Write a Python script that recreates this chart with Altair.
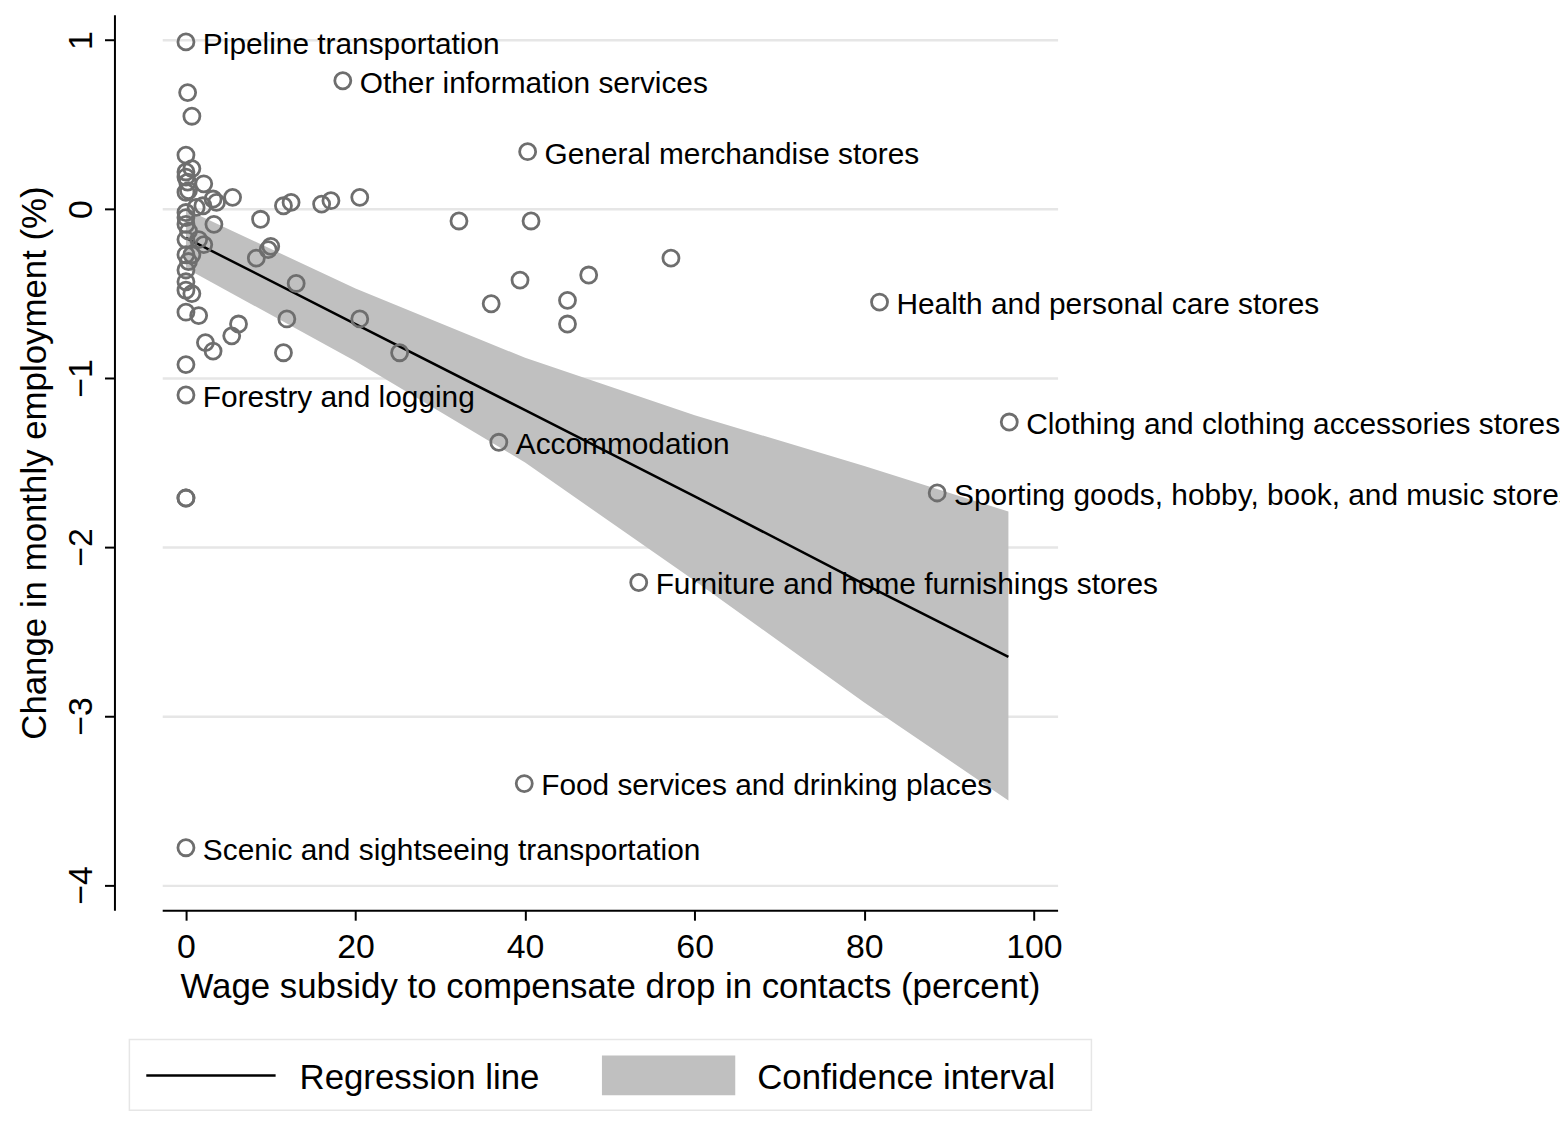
import altair as alt
import pandas as pd

FONT = "Liberation Sans"

# scatter points: subsidy (%), employment change (%)
sub_x = [0, 18.5, 0.2, 0.7, 40.3, 0, 0, 0.7, 0, 0.2, 2.1, 0, 0.3, 5.5, 3.2, 3.6,
         11.5, 12.4, 16, 17.1, 20.5, 1.2, 2, 0, 0, 0, 0.3, 0, 8.8, 3.3, 32.2, 40.7,
         2.1, 1.5, 10, 9.7, 0, 0.7, 0.3, 8.3, 57.2, 0, 0, 0, 0.7, 13, 47.5, 39.4,
         36, 45, 81.8, 0, 1.5, 11.9, 20.5, 6.2, 45, 5.4, 2.3, 3.2, 11.5, 25.2, 0,
         0, 36.9, 97.1, 88.6, 0, 0, 53.4, 39.9, 0]
emp_y = [0.99, 0.76, 0.69, 0.55, 0.34, 0.32, 0.22, 0.24, 0.19, 0.16, 0.15, 0.10, 0.11,
         0.07, 0.06, 0.04, 0.02, 0.04, 0.03, 0.05, 0.07, 0.01, 0.02, -0.02, -0.05, -0.09,
         -0.13, -0.18, -0.06, -0.09, -0.07, -0.07, -0.21, -0.18, -0.22, -0.24, -0.27,
         -0.27, -0.31, -0.29, -0.29, -0.36, -0.43, -0.48, -0.50, -0.44, -0.39, -0.42,
         -0.56, -0.54, -0.55, -0.61, -0.63, -0.65, -0.65, -0.68, -0.68, -0.75, -0.79,
         -0.84, -0.85, -0.85, -0.92, -1.10, -1.38, -1.26, -1.68, -1.71, -1.71, -2.21,
         -3.40, -3.78]
labels = ["Pipeline transportation", "Other information services", "", "",
          "General merchandise stores"] + [""] * 45 + ["Health and personal care stores"] + [""] * 12 + \
         ["Forestry and logging", "Accommodation", "Clothing and clothing accessories stores",
          "Sporting goods, hobby, book, and music stores", "", "",
          "Furniture and home furnishings stores", "Food services and drinking places",
          "Scenic and sightseeing transportation"]

# regression line and confidence band
fit_x = [0, 20, 40, 60, 80, 97]
fit_y = [-0.17, -0.68, -1.19, -1.70, -2.22, -2.65]
ci_lo = [-0.35, -0.90, -1.50, -2.20, -2.92, -3.50]
ci_hi = [0.00, -0.47, -0.88, -1.22, -1.52, -1.79]

pts = pd.DataFrame({"x": sub_x, "y": emp_y, "label": labels})
fit = pd.DataFrame({"x": fit_x, "y": fit_y, "lo": ci_lo, "hi": ci_hi})

xs = alt.Scale(domain=[-2.8, 102.8], nice=False, zero=False)
ys = alt.Scale(domain=[-4.15, 1.15], nice=False, zero=False)

xax = alt.Axis(values=[0, 20, 40, 60, 80, 100], grid=False, labelFontSize=34, titleFontSize=35,
               labelFont=FONT, titleFont=FONT, tickSize=10, tickColor="black", domainColor="black",
               labelColor="black", titleColor="black", labelPadding=10, titleFontWeight="normal",
               titlePadding=6, title="Wage subsidy to compensate drop in contacts (percent)")
yax = alt.Axis(values=[-4, -3, -2, -1, 0, 1], format="d", grid=True, gridColor="#e6e6e6",
               gridWidth=2.5, labelFontSize=34, titleFontSize=35, labelFont=FONT, titleFont=FONT,
               labelAngle=270, labelAlign="center", labelBaseline="bottom", tickSize=10,
               tickColor="black", domainColor="black", labelColor="black", titleColor="black",
               offset=48, labelPadding=6, titleFontWeight="normal", titleX=-62, titleY=450,
               title="Change in monthly employment (%)")

band = alt.Chart(fit).mark_area(color="#c0c0c0", opacity=1).encode(
    x=alt.X("x:Q", scale=xs, axis=xax), y=alt.Y("lo:Q", scale=ys, axis=yax), y2="hi:Q")
line = alt.Chart(fit).mark_line(color="black", strokeWidth=2.5).encode(
    x=alt.X("x:Q", scale=xs), y=alt.Y("y:Q", scale=ys))
dots = alt.Chart(pts).mark_point(shape="circle", size=260, strokeWidth=2.8, color="#6e6e6e",
                                 opacity=1, filled=False).encode(
    x=alt.X("x:Q", scale=xs), y=alt.Y("y:Q", scale=ys))
txt = alt.Chart(pts).mark_text(align="left", baseline="middle", dx=17, dy=3, fontSize=30,
                               font=FONT, color="black").encode(
    x=alt.X("x:Q", scale=xs), y=alt.Y("y:Q", scale=ys), text="label:N")

# legend box below the plot
leg_box = alt.Chart(fit.head(1)).mark_rect(fill="white", stroke="#e6e6e6", strokeWidth=1.5).encode(
    x=alt.value(-33), x2=alt.value(934), y=alt.value(1030), y2=alt.value(1101))
leg_line = alt.Chart(fit.head(1)).mark_rule(color="black", strokeWidth=2.5).encode(
    x=alt.value(-16), x2=alt.value(114), y=alt.value(1066))
leg_rect = alt.Chart(fit.head(1)).mark_rect(color="#c0c0c0").encode(
    x=alt.value(442), x2=alt.value(576), y=alt.value(1046), y2=alt.value(1086))
leg_t1 = alt.Chart(fit.head(1)).mark_text(align="left", baseline="middle", fontSize=35, font=FONT,
                                          color="black", text="Regression line").encode(
    x=alt.value(138), y=alt.value(1069))
leg_t2 = alt.Chart(fit.head(1)).mark_text(align="left", baseline="middle", fontSize=35, font=FONT,
                                          color="black", text="Confidence interval").encode(
    x=alt.value(598), y=alt.value(1069))

chart = alt.layer(band, line, dots, txt, leg_box, leg_line, leg_rect, leg_t1, leg_t2).properties(
    width=900, height=900, autosize=alt.AutoSizeParams(type="none"),
    padding={"left": 155, "top": 4, "right": 505, "bottom": 220}
).configure_view(stroke=None).configure_axis(domainWidth=2, tickWidth=2)

chart.save("out.html", embed_options={"renderer": "svg", "actions": False})
